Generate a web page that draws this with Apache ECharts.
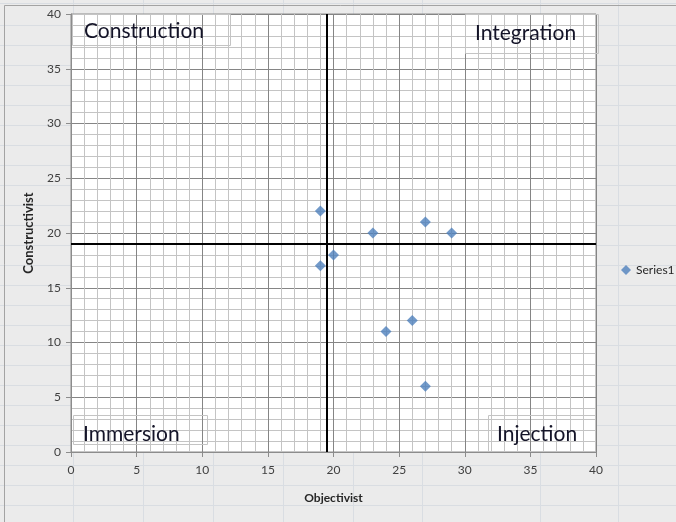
<!DOCTYPE html>
<html>
<head>
<meta charset="utf-8">
<script src="https://cdn.jsdelivr.net/npm/echarts@6/dist/echarts.min.js"></script>
<style>
	html, body { margin: 0; padding: 0; }
	body {
		width: 676px;
		height: 522px;
		overflow: hidden;
		background-color: #ebebeb;
		/* spreadsheet rows behind the chart */
		background-image: repeating-linear-gradient(to bottom, transparent 0px, transparent 19px, #d9dde2 19px, #d9dde2 20px);
		background-position: 0 6px;
	}
	#main { width: 676px; height: 522px; }
</style>
</head>
<body>
<div id="main"></div>
<script>
	// data
	var xValues = [19, 23, 27, 29, 19, 20, 26, 24, 27];
	var yValues = [22, 20, 21, 20, 17, 18, 12, 11, 6];
	var seriesName = 'Series1';
	var xName = 'Objectivist';
	var yName = 'Constructivist';
	var quadrantLabels = ['Construction', 'Integration', 'Immersion', 'Injection'];
	var dividerX = 19.5;
	var dividerY = 19;
	var sheetColumns = [73, 143, 213, 283, 353, 422, 540, 618];

	var points = xValues.map(function (x, i) { return [x, yValues[i]]; });

	var graphics = [];
	// spreadsheet column lines
	sheetColumns.forEach(function (cx) {
		graphics.push({
			type: 'line', silent: true, z: -10,
			shape: { x1: cx + 0.5, y1: 0, x2: cx + 0.5, y2: 522 },
			style: { stroke: '#d9dde2', lineWidth: 1 }
		});
	});
	// chart area border
	graphics.push({
		type: 'rect', silent: true, z: -5,
		shape: { x: 4.5, y: 5.5, width: 720, height: 560 },
		style: { fill: 'transparent', stroke: '#a3a3a3', lineWidth: 1 }
	});

	// quadrant text boxes
	var boxes = [
		{ x: 72, y: 14, w: 158, h: 31, tx: 84, ty: 31 },
		{ x: 465, y: 14, w: 133, h: 39, tx: 475, ty: 33 },
		{ x: 73, y: 415, w: 134, h: 29, tx: 83, ty: 434 },
		{ x: 488, y: 415, w: 107, h: 36, tx: 497, ty: 434 }
	];
	boxes.forEach(function (b, i) {
		graphics.push({
			type: 'rect', silent: true, z: 50,
			shape: { x: b.x + 0.5, y: b.y + 0.5, width: b.w, height: b.h },
			style: { fill: 'transparent', stroke: '#c4c4c4', lineWidth: 1 }
		});
		graphics.push({
			type: 'text', silent: true, z: 51,
			x: b.tx, y: b.ty,
			style: {
				text: quadrantLabels[i],
				font: '21px Lato',
				fill: '#141428',
				textVerticalAlign: 'middle',
				verticalAlign: 'middle'
			}
		});
	});

	var myChart = echarts.init(document.getElementById('main'), null, { renderer: 'canvas' });
	var option = {
		animation: false,
		backgroundColor: 'transparent',
		textStyle: { fontFamily: 'Lato' },
		grid: {
			left: 71, top: 14, right: 80, bottom: 70,
			show: true,
			backgroundColor: '#ffffff',
			borderColor: '#8c8c8c',
			borderWidth: 1
		},
		legend: {
			data: [seriesName],
			orient: 'vertical',
			left: 616,
			top: 259,
			itemWidth: 10,
			itemHeight: 10,
			itemGap: 4,
			textStyle: { color: '#262626', fontSize: 12, fontFamily: 'Lato' }
		},
		xAxis: {
			type: 'value',
			min: 0, max: 40, interval: 5,
			name: xName,
			nameLocation: 'middle',
			nameGap: 40,
			nameTextStyle: { fontWeight: 'bold', fontSize: 12, color: '#262626' },
			axisLine: { show: true, onZero: false, lineStyle: { color: '#8c8c8c' } },
			axisTick: { show: true, length: 5, lineStyle: { color: '#8c8c8c' } },
			axisLabel: { color: '#404040', fontSize: 12, margin: 12 },
			splitLine: { show: true, lineStyle: { color: '#858585', width: 1 } },
			minorTick: { show: false, splitNumber: 5 },
			minorSplitLine: { show: true, lineStyle: { color: '#c4c4c4', width: 1 } }
		},
		yAxis: {
			type: 'value',
			min: 0, max: 40, interval: 5,
			name: yName,
			nameLocation: 'middle',
			nameRotate: 90,
			nameGap: 36,
			nameTextStyle: { fontWeight: 'bold', fontSize: 13, color: '#262626' },
			axisLine: { show: true, onZero: false, lineStyle: { color: '#8c8c8c' } },
			axisTick: { show: true, length: 5, lineStyle: { color: '#8c8c8c' } },
			axisLabel: { color: '#404040', fontSize: 12, margin: 10 },
			splitLine: { show: true, lineStyle: { color: '#858585', width: 1 } },
			minorTick: { show: false, splitNumber: 5 },
			minorSplitLine: { show: true, lineStyle: { color: '#c4c4c4', width: 1 } }
		},
		graphic: graphics,
		series: [
			{
				name: seriesName,
				type: 'scatter',
				symbol: 'diamond',
				symbolSize: 11,
				itemStyle: { color: '#4f81bd' },
				z: 5,
				data: points,
				markLine: {
					silent: true,
					symbol: 'none',
					label: { show: false },
					lineStyle: { color: '#000000', width: 2, type: 'solid' },
					data: [
						{ xAxis: dividerX },
						{ yAxis: dividerY }
					]
				}
			}
		]
	};
	myChart.setOption(option);
</script>
</body>
</html>
